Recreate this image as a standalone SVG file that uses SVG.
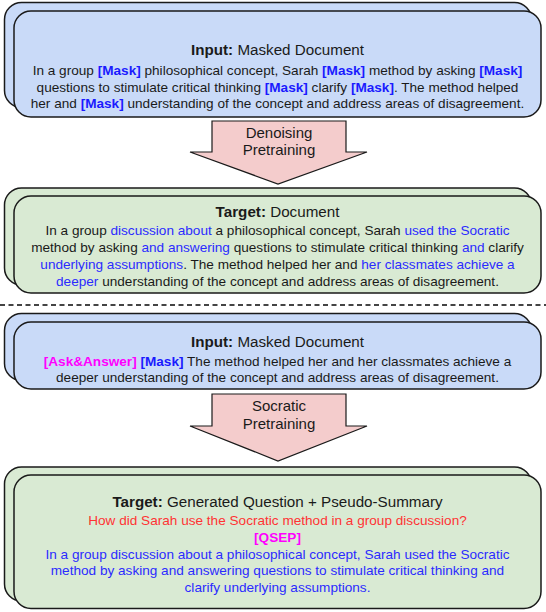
<svg xmlns="http://www.w3.org/2000/svg" width="546" height="612" viewBox="0 0 546 612">
<style>
.box{stroke:#1a1a1a;stroke-width:1.5}
.in{fill:#c9daf8}
.tg{fill:#d9ead3}
.arr{fill:#f4cccc;stroke:#1a1a1a;stroke-width:1.2}
text{font-family:"Liberation Sans",Arial,sans-serif;fill:#1a1a1a;text-anchor:middle}
.t{font-size:15.2px}
.b{font-size:13.6px}
.al{font-size:15px}
.bd{font-weight:bold}
.m{fill:#1a1aff;font-weight:bold}
.h{fill:#2b2bff}
.r{fill:#ff3333}
.mg{fill:#ff00ff;font-weight:bold}
</style>
<g id="input1">
<rect class="box in" x="4.5" y="2.5" width="527" height="105" rx="17"/>
<rect class="box in" x="14" y="11" width="527" height="106" rx="17"/>
<text class="t" x="277.5" y="55"><tspan class="bd">Input:</tspan> Masked Document</text>
<text class="b" x="277.5" y="75">In a group <tspan class="m">[Mask]</tspan> philosophical concept, Sarah <tspan class="m">[Mask]</tspan> method by asking <tspan class="m">[Mask]</tspan></text>
<text class="b" x="277.5" y="91.5">questions to stimulate critical thinking <tspan class="m">[Mask]</tspan> clarify <tspan class="m">[Mask]</tspan>. The method helped</text>
<text class="b" x="277.5" y="108">her and <tspan class="m">[Mask]</tspan> understanding of the concept and address areas of disagreement.</text>
</g>
<g id="arrow1">
<polygon class="arr" points="212,121 346,121 346,152 367,152 278,184 190,152 212,152"/>
<text class="al" x="279" y="138">Denoising</text>
<text class="al" x="279" y="155">Pretraining</text>
</g>
<g id="target1">
<rect class="box tg" x="4.5" y="188" width="527" height="97" rx="17"/>
<rect class="box tg" x="14" y="196" width="527" height="97" rx="17"/>
<text class="t" x="277.5" y="217"><tspan class="bd">Target:</tspan> Document</text>
<text class="b" x="277.5" y="235">In a group <tspan class="h">discussion about</tspan> a philosophical concept, Sarah <tspan class="h">used the Socratic</tspan></text>
<text class="b" x="277.5" y="252">method by asking <tspan class="h">and answering</tspan> questions to stimulate critical thinking <tspan class="h">and</tspan> clarify</text>
<text class="b" x="277.5" y="269"><tspan class="h">underlying assumptions</tspan>. The method helped her and <tspan class="h">her classmates achieve a</tspan></text>
<text class="b" x="277.5" y="286"><tspan class="h">deeper</tspan> understanding of the concept and address areas of disagreement.</text>
</g>
<g id="divider">
<line x1="0" y1="305" x2="546" y2="305" stroke="#444" stroke-width="2" stroke-dasharray="5,3.5"/>
</g>
<g id="input2">
<rect class="box in" x="4.5" y="313.5" width="527" height="67" rx="17"/>
<rect class="box in" x="14" y="322" width="527" height="67" rx="17"/>
<text class="t" x="277.5" y="346.5"><tspan class="bd">Input:</tspan> Masked Document</text>
<text class="b" x="277.5" y="365.5"><tspan class="mg">[Ask&amp;Answer]</tspan> <tspan class="m">[Mask]</tspan> The method helped her and her classmates achieve a</text>
<text class="b" x="277.5" y="382">deeper understanding of the concept and address areas of disagreement.</text>
</g>
<g id="arrow2">
<polygon class="arr" points="212,394 346,394 346,426 367,426 278,461 190,426 212,426"/>
<text class="al" x="279" y="411">Socratic</text>
<text class="al" x="279" y="429">Pretraining</text>
</g>
<g id="target2">
<rect class="box tg" x="4.5" y="467" width="527" height="134" rx="17"/>
<rect class="box tg" x="14" y="475" width="527" height="133.5" rx="17"/>
<text class="t" x="277.5" y="507"><tspan class="bd">Target:</tspan> Generated Question + Pseudo-Summary</text>
<text class="b r" x="277.5" y="525">How did Sarah use the Socratic method in a group discussion?</text>
<text class="b mg" x="277.5" y="542">[QSEP]</text>
<text class="b h" x="277.5" y="558.5">In a group discussion about a philosophical concept, Sarah used the Socratic</text>
<text class="b h" x="277.5" y="575">method by asking and answering questions to stimulate critical thinking and</text>
<text class="b h" x="277.5" y="591.5">clarify underlying assumptions.</text>
</g>
</svg>
